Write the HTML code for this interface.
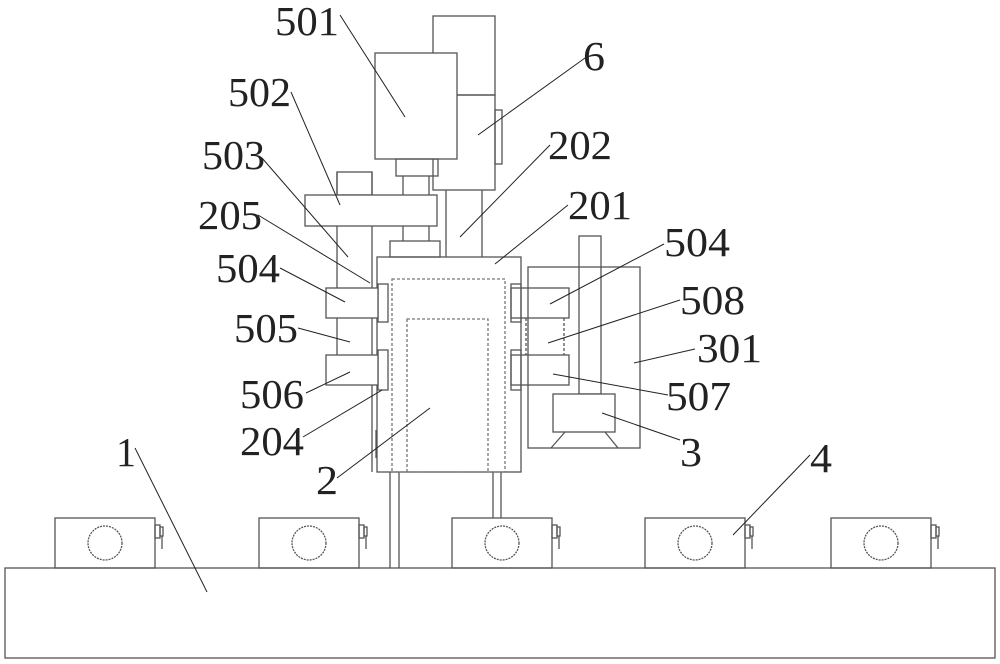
<!DOCTYPE html>
<html><head><meta charset="utf-8"><style>html,body{margin:0;padding:0;background:#fff}svg{display:block}</style></head>
<body>
<svg width="1000" height="664" viewBox="0 0 1000 664" xmlns="http://www.w3.org/2000/svg">
<g fill="none" stroke="#555" stroke-width="1.3">
<rect x="5" y="568" width="990" height="90"/>
<g id="b">
<rect x="55" y="518" width="100" height="50"/>
<circle cx="105" cy="543" r="17" stroke-dasharray="2 1"/>
<rect x="155" y="525" width="5" height="13"/>
<rect x="160" y="527" width="3" height="9"/>
<line x1="162" y1="536" x2="162" y2="549"/>
</g>
<use href="#b" x="204"/>
<use href="#b" x="397"/>
<use href="#b" x="590"/>
<use href="#b" x="776"/>
<line x1="390" y1="472" x2="390" y2="568"/><line x1="399" y1="472" x2="399" y2="568"/>
<line x1="493" y1="472" x2="493" y2="518"/><line x1="501" y1="472" x2="501" y2="518"/>
<rect x="377" y="257" width="144" height="215"/>
<rect x="392" y="279" width="113" height="193" stroke-dasharray="3 2" stroke="#777"/>
<rect x="407" y="319" width="81" height="153" stroke-dasharray="3 2" stroke="#777"/>
<line x1="376" y1="430" x2="376" y2="458"/>
<line x1="337" y1="172" x2="337" y2="355"/>
<line x1="372" y1="172" x2="372" y2="472"/>
<rect x="378" y="284" width="10" height="38"/>
<rect x="378" y="350" width="10" height="40"/>
<rect x="326" y="288" width="52" height="30" fill="#fff"/>
<rect x="326" y="355" width="52" height="30" fill="#fff"/>
<rect x="511" y="284" width="10" height="38"/>
<rect x="511" y="350" width="10" height="40"/>
<rect x="511" y="288" width="58" height="30"/>
<rect x="511" y="355" width="58" height="30"/>
<line x1="526" y1="318" x2="526" y2="355" stroke-dasharray="3 2"/>
<line x1="564" y1="318" x2="564" y2="355" stroke-dasharray="3 2"/>
<rect x="528" y="267" width="112" height="181"/>
<rect x="579" y="236" width="22" height="158" fill="none"/>
<rect x="553" y="394" width="62" height="38" fill="#fff"/>
<line x1="565" y1="432" x2="551" y2="448"/><line x1="605" y1="432" x2="618" y2="448"/>
<rect x="433" y="16" width="62" height="79"/>
<rect x="433" y="95" width="62" height="95"/>
<rect x="495" y="110" width="7" height="54"/>
<rect x="375" y="53" width="82" height="106" fill="#fff"/>
<rect x="396" y="159" width="42" height="17"/>
<line x1="403" y1="176" x2="403" y2="241"/><line x1="429" y1="176" x2="429" y2="241"/>
<rect x="337" y="172" width="35" height="23"/>
<rect x="305" y="195" width="132" height="31" fill="#fff"/>
<rect x="390" y="241" width="50" height="16"/>
<line x1="446" y1="190" x2="446" y2="257"/><line x1="482" y1="190" x2="482" y2="257"/>
</g>
<g stroke="#222" stroke-width="1">
<line x1="340" y1="15" x2="405" y2="117"/>
<line x1="585" y1="58" x2="478" y2="135"/>
<line x1="291" y1="92" x2="340" y2="205"/>
<line x1="262" y1="158" x2="348" y2="257"/>
<line x1="550" y1="145" x2="460" y2="237"/>
<line x1="568" y1="205" x2="495" y2="264"/>
<line x1="258" y1="215" x2="370" y2="283"/>
<line x1="280" y1="268" x2="345" y2="302"/>
<line x1="298" y1="328" x2="350" y2="342"/>
<line x1="306" y1="393" x2="350" y2="372"/>
<line x1="303" y1="437" x2="382" y2="390"/>
<line x1="337" y1="478" x2="430" y2="408"/>
<line x1="664" y1="244" x2="550" y2="304"/>
<line x1="680" y1="300" x2="548" y2="343"/>
<line x1="695" y1="349" x2="634" y2="363"/>
<line x1="668" y1="395" x2="553" y2="374"/>
<line x1="680" y1="440" x2="602" y2="413"/>
<line x1="810" y1="455" x2="733" y2="535"/>
<line x1="135" y1="448" x2="207" y2="592"/>
</g>
<g font-family="Liberation Serif, serif" font-size="41" fill="#222">
<text x="275" y="35" textLength="64" lengthAdjust="spacingAndGlyphs">501</text>
<text x="583" y="70" textLength="22" lengthAdjust="spacingAndGlyphs">6</text>
<text x="228" y="106" textLength="63" lengthAdjust="spacingAndGlyphs">502</text>
<text x="202" y="169" textLength="63" lengthAdjust="spacingAndGlyphs">503</text>
<text x="548" y="159" textLength="64" lengthAdjust="spacingAndGlyphs">202</text>
<text x="568" y="219" textLength="64" lengthAdjust="spacingAndGlyphs">201</text>
<text x="198" y="229" textLength="64" lengthAdjust="spacingAndGlyphs">205</text>
<text x="216" y="282" textLength="64" lengthAdjust="spacingAndGlyphs">504</text>
<text x="664" y="256" textLength="66" lengthAdjust="spacingAndGlyphs">504</text>
<text x="680" y="314" textLength="65" lengthAdjust="spacingAndGlyphs">508</text>
<text x="234" y="342" textLength="64" lengthAdjust="spacingAndGlyphs">505</text>
<text x="697" y="362" textLength="65" lengthAdjust="spacingAndGlyphs">301</text>
<text x="240" y="408" textLength="64" lengthAdjust="spacingAndGlyphs">506</text>
<text x="666" y="410" textLength="65" lengthAdjust="spacingAndGlyphs">507</text>
<text x="240" y="455" textLength="64" lengthAdjust="spacingAndGlyphs">204</text>
<text x="680" y="466" textLength="22" lengthAdjust="spacingAndGlyphs">3</text>
<text x="316" y="494" textLength="22" lengthAdjust="spacingAndGlyphs">2</text>
<text x="810" y="472" textLength="22" lengthAdjust="spacingAndGlyphs">4</text>
<text x="116" y="466" textLength="20" lengthAdjust="spacingAndGlyphs">1</text>
</g>
</svg>
</body></html>
